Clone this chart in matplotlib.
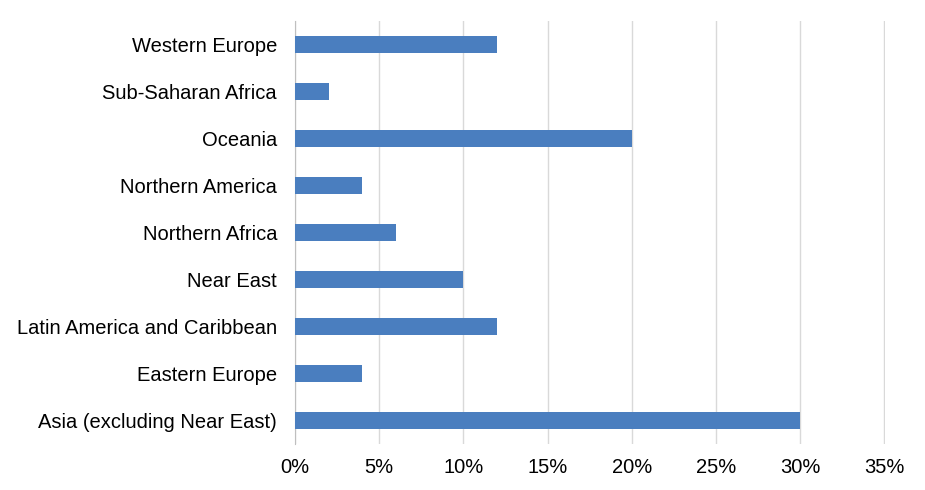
import matplotlib
matplotlib.use("Agg")
import matplotlib.pyplot as plt
from matplotlib.ticker import FuncFormatter

regions = ["Asia (excluding Near East)", "Eastern Europe", "Latin America and Caribbean",
           "Near East", "Northern Africa", "Northern America", "Oceania",
           "Sub-Saharan Africa", "Western Europe"]
shares = [30, 4, 12, 10, 6, 4, 20, 2, 12]
xticks = [0, 5, 10, 15, 20, 25, 30, 35]

plt.rcParams['font.family'] = ['Liberation Sans', 'DejaVu Sans']

fig = plt.figure(figsize=(9.25, 4.9), dpi=100)
ax = fig.add_axes([0.319, 0.094, 0.638, 0.863])

ax.barh(range(len(regions)), shares, height=0.35, color="#4a7ebf", zorder=3)
ax.set_yticks(range(len(regions)))
ax.set_yticklabels(regions)
ax.set_ylim(-0.5, len(regions) - 0.5)
ax.set_xlim(0, 35.05)
ax.set_xticks(xticks)
ax.xaxis.set_major_formatter(FuncFormatter(lambda v, p: "%d%%" % v))
ax.grid(axis="x", color="#d9d9d9", linewidth=1, zorder=0)
for s in ["top", "right", "bottom"]:
    ax.spines[s].set_visible(False)
ax.spines["left"].set_color("#bfbfbf")
ax.tick_params(axis="both", length=0, labelsize=14.5, colors="black")
ax.tick_params(axis="y", pad=13)
ax.tick_params(axis="x", pad=10)

fig.savefig("out.png", dpi=100)
